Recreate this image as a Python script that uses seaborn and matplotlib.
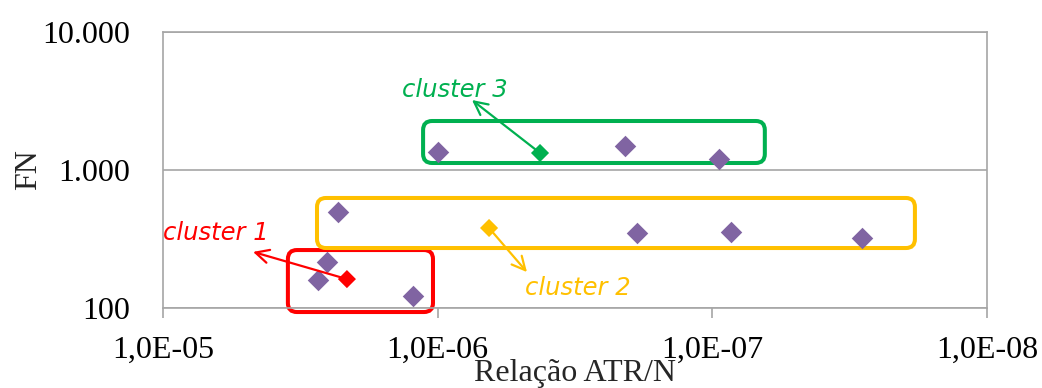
import numpy as np
import pandas as pd
import matplotlib
matplotlib.use("Agg")
import matplotlib.pyplot as plt
import seaborn as sns
from matplotlib.patches import FancyBboxPatch
from matplotlib.transforms import IdentityTransform
from matplotlib.ticker import FuncFormatter, NullLocator, FixedLocator

# ---- data ----
atr_n = [9.98e-7, 2.08e-7, 9.46e-8, 2.31e-6, 1.88e-7, 8.55e-8, 2.85e-8, 2.53e-6, 2.73e-6, 1.23e-6]
fn = [1349, 1493, 1202, 496, 349, 356, 322, 215, 160, 122]

cluster_names = ["cluster 1", "cluster 2", "cluster 3"]
cluster_x = [2.14e-6, 6.5e-7, 4.24e-7]
cluster_y = [162, 380, 1328]
cluster_colors = ["#FF0000", "#FFC000", "#00B050"]

# box extents (data units) around each cluster: x_left, x_right, y_top, y_bottom
box_x0 = [3.51e-6, 2.75e-6, 1.13e-6]
box_x1 = [1.04e-6, 1.83e-8, 6.44e-8]
box_y0 = [263, 627, 2265]
box_y1 = [93.5, 272, 1124]

# label arrows: tip position and label position
arrow_tip_x = [4.7e-6, 4.73e-7, 7.5e-7]
arrow_tip_y = [255, 182, 3215]
label_x = [1.0e-5, 4.81e-7, 1.35e-6]
label_y = [349, 140, 3800]

x_ticks = [1e-5, 1e-6, 1e-7, 1e-8]
y_ticks = [100, 1000, 10000]

# ---- figure ----
sns.set_theme(style="white")
plt.rcParams["font.family"] = ["Liberation Serif", "DejaVu Serif"]

fig = plt.figure(figsize=(10.42, 3.88), dpi=100)
ax = fig.add_axes([163 / 1042, 1 - 308 / 388, (987 - 163) / 1042, (308 - 32) / 388])

ax.set_xscale("log")
ax.set_yscale("log")
ax.set_xlim(1e-5, 1e-8)
ax.set_ylim(100, 10000)

grey = "#A6A6A6"
ax.yaxis.grid(True, color=grey, lw=1.2)
ax.set_axisbelow(True)
for s in ax.spines.values():
    s.set_color(grey)
    s.set_linewidth(1.2)

df_pts = pd.DataFrame({"x": atr_n, "y": fn})
sns.scatterplot(data=df_pts, x="x", y="y", marker="D", s=120, color="#8064A2",
                linewidth=0, ax=ax, zorder=3, clip_on=False)

df_c = pd.DataFrame({"x": cluster_x, "y": cluster_y, "c": cluster_names})
sns.scatterplot(data=df_c, x="x", y="y", hue="c", palette=cluster_colors, marker="D",
                s=85, linewidth=0, ax=ax, zorder=4, legend=False, clip_on=False)

ax.xaxis.set_major_locator(FixedLocator(x_ticks))
ax.yaxis.set_major_locator(FixedLocator(y_ticks))
ax.xaxis.set_minor_locator(NullLocator())
ax.yaxis.set_minor_locator(NullLocator())
ax.xaxis.set_major_formatter(FuncFormatter(lambda v, p: f"{v:.1E}".replace(".", ",")))
ax.yaxis.set_major_formatter(FuncFormatter(lambda v, p: f"{int(round(v)):,}".replace(",", ".")))
ax.tick_params(axis="x", direction="out", length=7, width=1.2, color=grey, pad=13,
               labelsize=23, labelcolor="black", bottom=True)
ax.tick_params(axis="y", length=0, pad=24, labelsize=23, labelcolor="black", left=True)

ax.set_xlabel("")
ax.set_ylabel("FN", fontsize=23, labelpad=-1)
fig.text((163 + 987) / 2 / 1042, 7 / 388, "Relação ATR/N", ha="center", va="baseline",
         fontsize=23, family=["Liberation Serif", "DejaVu Serif"])

# boxes in display space (rounded corners)
for i in range(3):
    (px0, py0) = ax.transData.transform((box_x0[i], box_y1[i]))
    (px1, py1) = ax.transData.transform((box_x1[i], box_y0[i]))
    box = FancyBboxPatch((px0, py0), px1 - px0, py1 - py0,
                         boxstyle="round,pad=0,rounding_size=9",
                         fill=False, edgecolor=cluster_colors[i], linewidth=2.9,
                         transform=IdentityTransform(), zorder=2, clip_on=False)
    ax.add_artist(box)

# arrows and labels
for i in range(3):
    ax.annotate("", xy=(arrow_tip_x[i], arrow_tip_y[i]), xytext=(cluster_x[i], cluster_y[i]),
                arrowprops=dict(arrowstyle="->", color=cluster_colors[i], lw=1.6,
                                mutation_scale=24, shrinkA=0, shrinkB=0),
                zorder=5, annotation_clip=False)
    ax.text(label_x[i], label_y[i], cluster_names[i], color=cluster_colors[i],
            fontsize=17.5, style="italic", family=["DejaVu Sans"],
            ha="left", va="center", zorder=6)

fig.savefig("out.png", dpi=100)
